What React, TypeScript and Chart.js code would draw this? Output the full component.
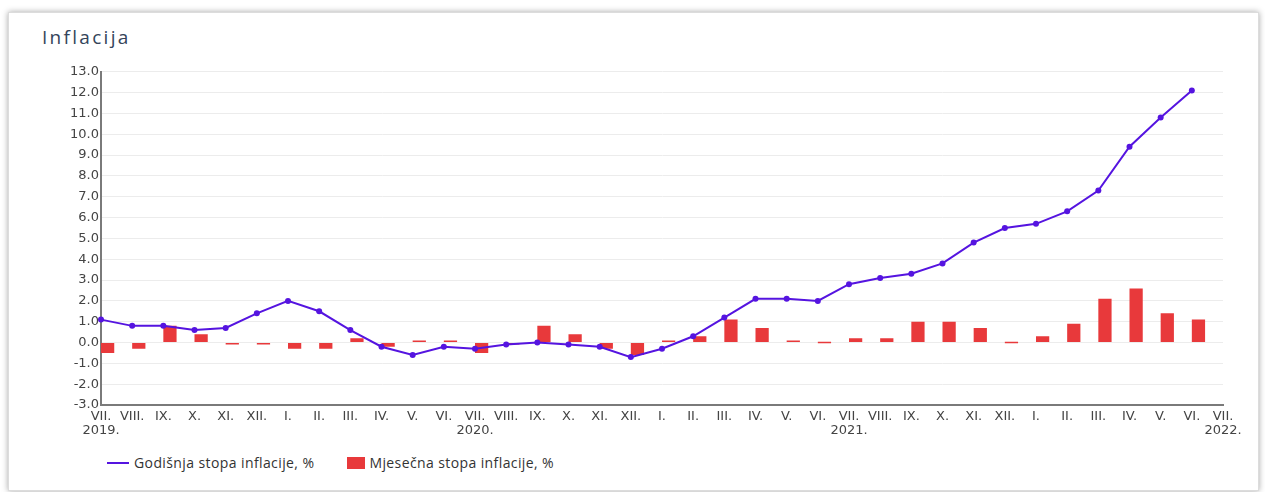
import React, { useEffect, useRef } from "react";
import { Chart, registerables } from "chart.js";

Chart.register(...registerables);

const monthLabels = [
  "VII.", "VIII.", "IX.", "X.", "XI.", "XII.",
  "I.", "II.", "III.", "IV.", "V.", "VI.", "VII.", "VIII.", "IX.", "X.", "XI.", "XII.",
  "I.", "II.", "III.", "IV.", "V.", "VI.", "VII.", "VIII.", "IX.", "X.", "XI.", "XII.",
  "I.", "II.", "III.", "IV.", "V.", "VI.", "VII.",
];
const yearLabels: Record<number, string> = { 0: "2019.", 12: "2020.", 24: "2021.", 36: "2022." };

const annualRate = [
  1.1, 0.8, 0.8, 0.6, 0.7, 1.4,
  2.0, 1.5, 0.6, -0.2, -0.6, -0.2, -0.3, -0.1, 0.0, -0.1, -0.2, -0.7,
  -0.3, 0.3, 1.2, 2.1, 2.1, 2.0, 2.8, 3.1, 3.3, 3.8, 4.8, 5.5,
  5.7, 6.3, 7.3, 9.4, 10.8, 12.1,
];
const monthlyRate = [
  -0.5, -0.3, 0.8, 0.4, -0.1, -0.1,
  -0.3, -0.3, 0.2, -0.2, 0.1, 0.1, -0.5, -0.1, 0.8, 0.4, -0.3, -0.6,
  0.1, 0.3, 1.1, 0.7, 0.1, 0.0, 0.2, 0.2, 1.0, 1.0, 0.7, 0.0,
  0.3, 0.9, 2.1, 2.6, 1.4, 1.1,
];
const seriesNames = ["Godišnja stopa inflacije, %", "Mjesečna stopa inflacije, %"];
const titleText = "Inflacija";
const yMin = -3;
const yMax = 13;
const yStep = 1;

const LINE_COLOR = "#5514e0";
const BAR_COLOR = "#e8393b";

export default function App() {
  const canvasRef = useRef<HTMLCanvasElement | null>(null);

  useEffect(() => {
    if (!canvasRef.current) return;
    const labels = monthLabels.map((m, i) => (yearLabels[i] ? [m, yearLabels[i]] : m));
    const chart = new Chart(canvasRef.current, {
      type: "bar",
      data: {
        labels,
        datasets: [
          {
            type: "line",
            label: seriesNames[0],
            data: annualRate,
            borderColor: LINE_COLOR,
            backgroundColor: LINE_COLOR,
            borderWidth: 2,
            pointRadius: 3,
            pointBackgroundColor: LINE_COLOR,
            pointBorderWidth: 0,
            tension: 0,
            order: 0,
            clip: false,
          } as any,
          {
            type: "bar",
            label: "_spacer",
            data: monthlyRate.map(() => null),
            backgroundColor: "transparent",
            order: 1,
          } as any,
          {
            type: "bar",
            label: seriesNames[1],
            data: monthlyRate,
            backgroundColor: BAR_COLOR,
            borderWidth: 0,
            minBarLength: 1.5,
            order: 1,
          } as any,
        ],
      },
      options: {
        responsive: false,
        animation: false,
        layout: { padding: { top: 8, right: 42, left: 0, bottom: 0 } },
        plugins: {
          legend: { display: false },
          tooltip: { enabled: false },
        },
        datasets: {
          bar: { categoryPercentage: 0.85, barPercentage: 1 },
        },
        scales: {
          x: {
            type: "category",
            offset: false,
            grid: { display: false, drawTicks: false },
            border: { display: true, color: "#7a7a7a", width: 2 },
            ticks: {
              autoSkip: false,
              maxRotation: 0,
              minRotation: 0,
              padding: 4,
              color: "#444",
              font: { family: "DejaVu Sans", size: 13, lineHeight: 1.1 },
            },
            afterFit: (scale: any) => {
              scale.height = 40;
            },
          },
          y: {
            type: "linear",
            min: yMin,
            max: yMax,
            grid: { color: "#ececec", lineWidth: 1, drawTicks: false },
            border: { display: true, color: "#7a7a7a", width: 2 },
            ticks: {
              stepSize: yStep,
              padding: 2,
              color: "#444",
              font: { family: "DejaVu Sans", size: 13 },
              callback: (v: any) => Number(v).toFixed(1),
            },
            afterFit: (scale: any) => {
              scale.width = 61;
            },
          },
        },
      },
    });
    return () => chart.destroy();
  }, []);

  return (
    <div>
      <div
        style={{
          position: "absolute",
          left: 8,
          top: 12,
          width: 1249,
          height: 477,
          border: "1px solid #dcdcdc",
          boxShadow: "0 0 6px rgba(0,0,0,0.35)",
          background: "#fff",
        }}
      />
      <div
        style={{
          position: "absolute",
          left: 42,
          top: 25,
          fontFamily: "'Open Sans', sans-serif",
          fontSize: 19,
          letterSpacing: "2.3px",
          lineHeight: "24px",
          color: "#34445a",
        }}
      >
        {titleText}
      </div>
      <canvas
        ref={canvasRef}
        width={1225}
        height={383}
        style={{ position: "absolute", left: 40, top: 62, width: 1225, height: 383 }}
      />
      <div
        style={{
          position: "absolute",
          left: 107,
          top: 455,
          display: "flex",
          alignItems: "center",
          fontFamily: "'Open Sans', sans-serif",
          fontSize: 14,
          letterSpacing: "0.4px",
          lineHeight: "16px",
          color: "#333",
        }}
      >
        <span style={{ display: "inline-block", width: 22, height: 2, background: LINE_COLOR, marginRight: 5 }} />
        <span>{seriesNames[0]}</span>
        <span
          style={{
            display: "inline-block",
            width: 18,
            height: 12,
            background: BAR_COLOR,
            marginLeft: 33,
            marginRight: 4,
          }}
        />
        <span>{seriesNames[1]}</span>
      </div>
    </div>
  );
}
